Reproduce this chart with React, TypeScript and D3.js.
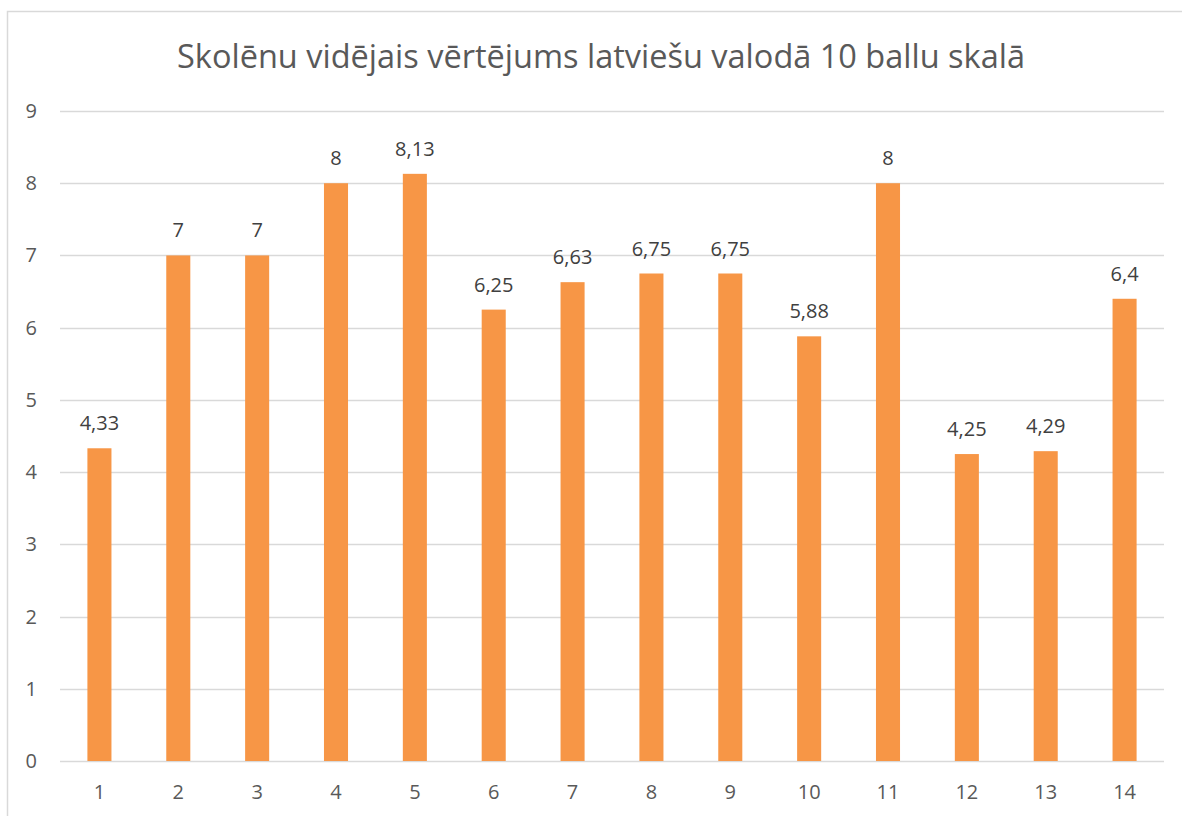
import { useEffect, useRef } from "react";
import * as d3 from "d3";

const title = "Skolēnu vidējais vērtējums latviešu valodā 10 ballu skalā";
const categories = ["1", "2", "3", "4", "5", "6", "7", "8", "9", "10", "11", "12", "13", "14"];
const values = [4.33, 7, 7, 8, 8.13, 6.25, 6.63, 6.75, 6.75, 5.88, 8, 4.25, 4.29, 6.4];
const yTicks = [0, 1, 2, 3, 4, 5, 6, 7, 8, 9];

const WIDTH = 1182;
const HEIGHT = 816;
const FONT = "'Open Sans', 'Noto Sans', sans-serif";

export default function App() {
  const svgRef = useRef<SVGSVGElement | null>(null);

  useEffect(() => {
    const svg = d3.select(svgRef.current);
    svg.selectAll("*").remove();

    const margin = { top: 111, right: 18, bottom: 55, left: 60 };

    // chart frame (right and bottom edges fall outside the picture)
    svg
      .append("rect")
      .attr("x", 7.5)
      .attr("y", 11.5)
      .attr("width", WIDTH + 20)
      .attr("height", HEIGHT + 20)
      .attr("fill", "white")
      .attr("stroke", "#d9d9d9")
      .attr("stroke-width", 1.5);

    const x = d3
      .scaleBand()
      .domain(categories)
      .range([margin.left, WIDTH - margin.right])
      .paddingInner(0.695)
      .paddingOuter(0.3475);

    const y = d3
      .scaleLinear()
      .domain([0, 9])
      .range([HEIGHT - margin.bottom, margin.top]);

    // gridlines
    svg
      .append("g")
      .selectAll("line")
      .data(yTicks)
      .join("line")
      .attr("x1", margin.left)
      .attr("x2", WIDTH - margin.right)
      .attr("y1", (d) => Math.round(y(d)) + 0.5)
      .attr("y2", (d) => Math.round(y(d)) + 0.5)
      .attr("stroke", "#d9d9d9")
      .attr("stroke-width", 1.5);

    // y labels
    svg
      .append("g")
      .selectAll("text")
      .data(yTicks)
      .join("text")
      .attr("x", 37)
      .attr("y", (d) => y(d))
      .attr("dy", "0.35em")
      .attr("text-anchor", "end")
      .attr("font-family", FONT)
      .attr("font-size", 20)
      .attr("fill", "#595959")
      .text((d) => d);

    // bars
    svg
      .append("g")
      .selectAll("rect")
      .data(values)
      .join("rect")
      .attr("x", (_, i) => x(categories[i])!)
      .attr("y", (d) => y(d))
      .attr("width", x.bandwidth())
      .attr("height", (d) => y(0) - y(d))
      .attr("fill", "#f79646");

    // data labels
    svg
      .append("g")
      .selectAll("text")
      .data(values)
      .join("text")
      .attr("x", (_, i) => x(categories[i])! + x.bandwidth() / 2)
      .attr("y", (d) => y(d) - 18)
      .attr("text-anchor", "middle")
      .attr("font-family", FONT)
      .attr("font-size", 20)
      .attr("fill", "#404040")
      .text((d) => String(d).replace(".", ","));

    // x labels
    svg
      .append("g")
      .selectAll("text")
      .data(categories)
      .join("text")
      .attr("x", (d) => x(d)! + x.bandwidth() / 2)
      .attr("y", 799)
      .attr("text-anchor", "middle")
      .attr("font-family", FONT)
      .attr("font-size", 20)
      .attr("fill", "#595959")
      .text((d) => d);

    // title
    svg
      .append("text")
      .attr("x", 601)
      .attr("y", 68)
      .attr("text-anchor", "middle")
      .attr("font-family", FONT)
      .attr("font-size", 32.5)
      .attr("fill", "#595959")
      .text(title);
  }, []);

  return (
    <div style={{ position: "fixed", left: 0, top: 0, background: "white" }}>
      <svg ref={svgRef} width={WIDTH} height={HEIGHT}></svg>
    </div>
  );
}
